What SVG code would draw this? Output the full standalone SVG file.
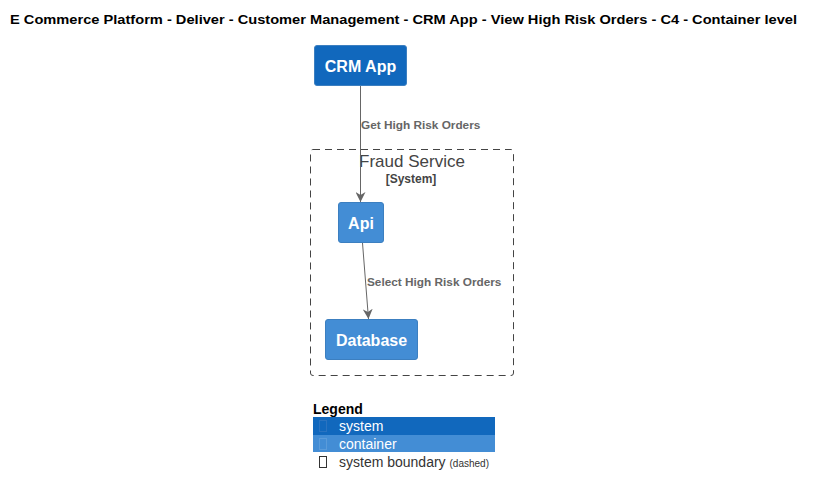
<svg xmlns="http://www.w3.org/2000/svg" width="815" height="496" viewBox="0 0 815 496">
<defs>
<style>
text{font-family:"Liberation Sans",Arial,sans-serif}
.title{font-size:13.5px;font-weight:bold;fill:#000}
.sys{fill:#1168BD;stroke:#3C7FC0;stroke-width:1}
.cont{fill:#438DD5;stroke:#3C7FC0;stroke-width:1}
.ntext{font-size:16px;font-weight:bold;fill:#FFF;text-anchor:middle}
.edge{stroke:#666;stroke-width:1;fill:none}
.elabel{font-size:11.8px;font-weight:bold;fill:#666}
.bound{fill:none;stroke:#444;stroke-width:1;stroke-dasharray:7,5}
.btitle{font-size:17px;fill:#444;text-anchor:middle}
.btype{font-size:12px;font-weight:bold;fill:#444;text-anchor:middle}
.lg{font-size:14px;font-weight:bold;fill:#000}
.lt{font-size:14px}
.icon{fill:none;stroke-width:1}
</style>
<marker id="arr" viewBox="0 0 10 10" refX="10" refY="5" markerWidth="10" markerHeight="10" markerUnits="userSpaceOnUse" orient="auto">
<path d="M0,0 L10,5 L0,10 L3,5 Z" fill="#666"/>
</marker>
</defs>
<rect width="815" height="496" fill="#FFF"/>
<text class="title" x="10" y="24" textLength="787" lengthAdjust="spacingAndGlyphs">E Commerce Platform - Deliver - Customer Management - CRM App - View High Risk Orders - C4 - Container level</text>

<g id="boundary-fraud-service">
<rect class="bound" x="310.5" y="149.5" width="203" height="226" rx="2.5" ry="2.5"/>
<text class="btitle" x="412" y="167">Fraud Service</text>
<text class="btype" x="411" y="183">[System]</text>
</g>

<g id="node-crm-app">
<rect class="sys" x="314.5" y="45.5" width="92" height="40" rx="2.5" ry="2.5"/>
<text class="ntext" x="360.5" y="72">CRM App</text>
</g>

<g id="node-api">
<rect class="cont" x="338.5" y="202.5" width="45" height="40" rx="2.5" ry="2.5"/>
<text class="ntext" x="361" y="229">Api</text>
</g>

<g id="node-database">
<rect class="cont" x="325.5" y="319.5" width="92" height="40" rx="2.5" ry="2.5"/>
<text class="ntext" x="371.5" y="346">Database</text>
</g>

<g id="connectors">
<line class="edge" x1="360.5" y1="86" x2="360.5" y2="202" marker-end="url(#arr)"/>
<text class="elabel" x="361" y="129">Get High Risk Orders</text>
<line class="edge" x1="362.5" y1="243" x2="368.5" y2="319" marker-end="url(#arr)"/>
<text class="elabel" x="367" y="286">Select High Risk Orders</text>
</g>

<g id="legend">
<text class="lg" x="313" y="414">Legend</text>
<rect x="313" y="417" width="182" height="18" fill="#1168BD"/>
<rect class="icon" x="319.5" y="420.5" width="7" height="11" stroke="#2A73C0"/>
<text class="lt" x="339" y="431" fill="#FFF">system</text>
<rect x="313" y="435" width="182" height="17" fill="#438DD5"/>
<rect class="icon" x="319.5" y="438.5" width="7" height="11" stroke="#5A9BDA"/>
<text class="lt" x="339" y="449" fill="#FFF">container</text>
<rect class="icon" x="319.5" y="456.5" width="7" height="11" stroke="#333"/>
<text class="lt" x="339" y="467" fill="#333">system boundary <tspan font-size="10">(dashed)</tspan></text>
</g>
</svg>
